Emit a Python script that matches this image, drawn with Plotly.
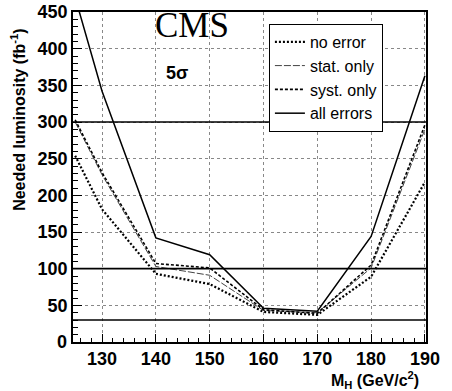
import plotly.graph_objects as go

# Higgs mass points (GeV/c^2)
mass = [125, 130, 140, 150, 160, 170, 180, 190]

# Needed luminosity (fb^-1) for 5 sigma
no_error = [254, 181, 93, 79, 41, 37, 89, 218]
stat_only = [300, 228, 103, 91, 43, 40, 101, 290]
syst_only = [303, 231, 107, 101, 44, 39, 105, 296]
all_errors = [470, 342, 142, 119, 46, 42, 144, 363]

series_names = ["no error", "stat. only", "syst. only", "all errors"]
ref_levels = [30, 100, 300]

y_ticks = list(range(0, 451, 50))
x_ticks = [130, 140, 150, 160, 170, 180, 190]

styles = [
    dict(color="black", width=2.2, dash="2px,2px"),
    dict(color="#444444", width=1, dash="7px,2px"),
    dict(color="black", width=1.6, dash="3px,2px"),
    dict(color="black", width=1.5, dash="solid"),
]

fig = go.Figure()
for name, ys, st in zip(series_names, [no_error, stat_only, syst_only, all_errors], styles):
    fig.add_trace(go.Scatter(x=mass, y=ys, mode="lines", name=name, line=st))

for lv in ref_levels:
    fig.add_shape(type="line", xref="paper", x0=0, x1=1, yref="y", y0=lv, y1=lv,
                  line=dict(color="black", width=1.6), layer="above")

fig.update_layout(
    width=452, height=391,
    margin=dict(l=73, r=26, t=12, b=49, autoexpand=False),
    paper_bgcolor="white", plot_bgcolor="white",
    font=dict(family="Liberation Sans", color="black"),
    showlegend=True,
    legend=dict(x=0.555, y=0.964, xanchor="left", yanchor="top",
                bgcolor="white", bordercolor="black", borderwidth=1,
                font=dict(size=16, family="Liberation Sans"),
                itemwidth=30, tracegroupgap=0),
)

tick_font = dict(size=18, family="Liberation Sans", weight="bold", color="black")

fig.update_xaxes(
    range=[124.6, 190.2], tickvals=x_ticks, ticktext=[str(v) for v in x_ticks],
    automargin=False, ticklabeloverflow="allow",
    showline=True, linecolor="black", linewidth=1.5, mirror=True,
    ticks="inside", ticklen=8, tickcolor="black",
    minor=dict(ticks="inside", dtick=2, ticklen=4, tickcolor="black", showgrid=False),
    showgrid=True, gridcolor="#888888", griddash="dot", gridwidth=1,
    zeroline=False,
    tickfont=tick_font,
)
fig.update_yaxes(
    range=[0, 450], tickvals=y_ticks,
    ticktext=[str(v) if v != 0 else "" for v in y_ticks],
    automargin=False, ticklabeloverflow="allow",
    showline=True, linecolor="black", linewidth=1.5, mirror=True,
    ticks="inside", ticklen=9, tickcolor="black",
    minor=dict(ticks="inside", dtick=10, ticklen=5, tickcolor="black", showgrid=False),
    showgrid=True, gridcolor="#888888", griddash="dot", gridwidth=1,
    zeroline=False,
    tickfont=tick_font,
)

# lowest y tick label, placed at the bottom of the y domain (range starts at 0)
fig.add_annotation(text="<b>" + str(y_ticks[0]) + "</b>", xref="paper", yref="paper",
                   x=-0.012, y=0.0, xanchor="right", yanchor="middle", showarrow=False,
                   font=dict(size=18, family="Liberation Sans", color="black"))

fig.add_annotation(text="CMS", xref="paper", yref="paper", x=0.228, y=0.96,
                   xanchor="left", yanchor="middle", showarrow=False,
                   font=dict(family="Liberation Serif", size=35, color="black"))
fig.add_annotation(text="<b>5σ</b>", xref="paper", yref="paper", x=0.258, y=0.815,
                   xanchor="left", yanchor="middle", showarrow=False,
                   font=dict(family="Liberation Sans", size=18, color="black"))
fig.add_annotation(text="<b>Needed luminosity (fb<sup>-1</sup>)</b>", xref="paper", yref="paper",
                   x=-0.156, y=0.673, xanchor="center", yanchor="middle", textangle=-90,
                   showarrow=False, font=dict(family="Liberation Sans", size=16, color="black"))
fig.add_annotation(text="<b>M<sub>H</sub> (GeV/c<sup>2</sup>)</b>", xref="paper", yref="paper",
                   x=0.985, y=-0.075, xanchor="right", yanchor="top",
                   showarrow=False, font=dict(family="Liberation Sans", size=16, color="black"))

fig.write_html("out.html", config={"displayModeBar": False},
               post_script="document.body.style.margin='0';")
